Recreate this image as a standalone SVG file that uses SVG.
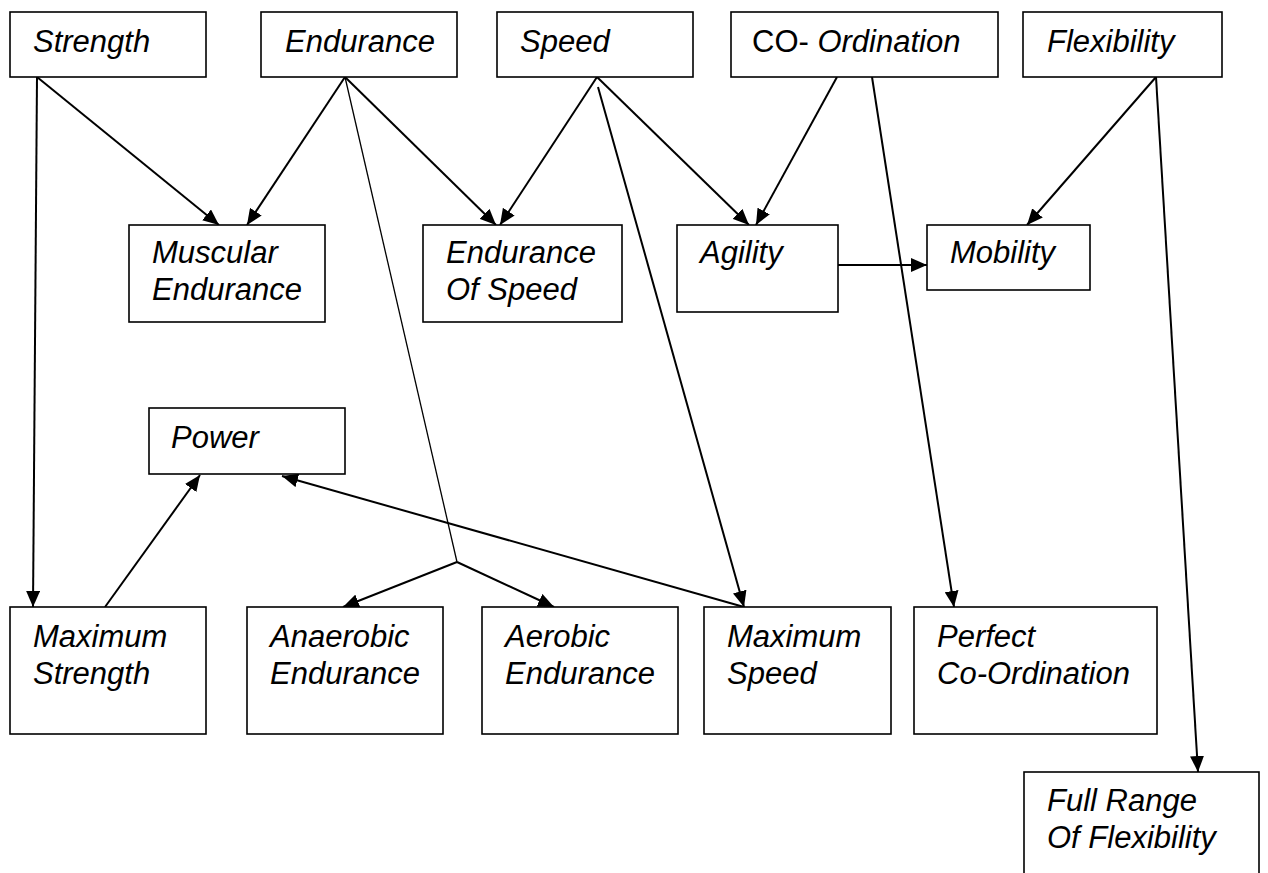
<svg xmlns="http://www.w3.org/2000/svg" width="1268" height="873" viewBox="0 0 1268 873">
<defs>
<style>
.box{fill:#fff;stroke:#000;stroke-width:1.6}
.t{font-family:"Liberation Sans",Arial,sans-serif;font-size:31px;font-style:italic;fill:#000}
.up{font-style:normal}
.c{stroke:#000;stroke-width:2;fill:none}
.thin{stroke:#000;stroke-width:1.3;fill:none}
</style>
<marker id="ah" markerUnits="userSpaceOnUse" markerWidth="16" markerHeight="14" refX="16" refY="7" orient="auto">
<path d="M0,0 L16,7 L0,14 z" fill="#000"/>
</marker>
</defs>
<rect width="1268" height="873" fill="#fff"/>
<g id="connectors">
<line class="c" x1="37" y1="77" x2="33" y2="607" marker-end="url(#ah)"/>
<line class="c" x1="37" y1="77" x2="219" y2="225" marker-end="url(#ah)"/>
<line class="c" x1="345" y1="77" x2="247" y2="225" marker-end="url(#ah)"/>
<line class="c" x1="345" y1="77" x2="496" y2="225" marker-end="url(#ah)"/>
<polyline class="thin" points="345,77 457,562"/>
<line class="c" x1="457" y1="562" x2="343" y2="607" marker-end="url(#ah)"/>
<line class="c" x1="457" y1="562" x2="554" y2="607" marker-end="url(#ah)"/>
<line class="c" x1="597" y1="77" x2="500" y2="225" marker-end="url(#ah)"/>
<line class="c" x1="598" y1="87" x2="744" y2="607" marker-end="url(#ah)"/>
<line class="c" x1="597" y1="77" x2="749" y2="225" marker-end="url(#ah)"/>
<line class="c" x1="837" y1="77" x2="756" y2="225" marker-end="url(#ah)"/>
<line class="c" x1="872" y1="77" x2="954" y2="607" marker-end="url(#ah)"/>
<line class="c" x1="1156" y1="77" x2="1027" y2="225" marker-end="url(#ah)"/>
<line class="c" x1="1156" y1="77" x2="1198" y2="772" marker-end="url(#ah)"/>
<line class="c" x1="838" y1="265" x2="927" y2="265" marker-end="url(#ah)"/>
<line class="c" x1="105" y1="607" x2="200" y2="475" marker-end="url(#ah)"/>
<line class="c" x1="744" y1="607" x2="282" y2="476" marker-end="url(#ah)"/>
</g>
<g id="strength"><rect class="box" x="10" y="12" width="196" height="65"/><text class="t" x="33" y="52">Strength</text></g>
<g id="endurance"><rect class="box" x="261" y="12" width="196" height="65"/><text class="t" x="285" y="52">Endurance</text></g>
<g id="speed"><rect class="box" x="497" y="12" width="196" height="65"/><text class="t" x="520" y="52">Speed</text></g>
<g id="coordination"><rect class="box" x="731" y="12" width="267" height="65"/><text class="t" x="752" y="52"><tspan class="up">CO- </tspan>Ordination</text></g>
<g id="flexibility"><rect class="box" x="1023" y="12" width="199" height="65"/><text class="t" x="1047" y="52">Flexibility</text></g>
<g id="muscular-endurance"><rect class="box" x="129" y="225" width="196" height="97"/><text class="t" x="152" y="263">Muscular</text><text class="t" x="152" y="300">Endurance</text></g>
<g id="endurance-of-speed"><rect class="box" x="423" y="225" width="199" height="97"/><text class="t" x="446" y="263">Endurance</text><text class="t" x="446" y="300">Of Speed</text></g>
<g id="agility"><rect class="box" x="677" y="225" width="161" height="87"/><text class="t" x="700" y="263">Agility</text></g>
<g id="mobility"><rect class="box" x="927" y="225" width="163" height="65"/><text class="t" x="950" y="263">Mobility</text></g>
<g id="power"><rect class="box" x="149" y="408" width="196" height="66"/><text class="t" x="171" y="448">Power</text></g>
<g id="maximum-strength"><rect class="box" x="10" y="607" width="196" height="127"/><text class="t" x="33" y="647">Maximum</text><text class="t" x="33" y="684">Strength</text></g>
<g id="anaerobic-endurance"><rect class="box" x="247" y="607" width="196" height="127"/><text class="t" x="270" y="647">Anaerobic</text><text class="t" x="270" y="684">Endurance</text></g>
<g id="aerobic-endurance"><rect class="box" x="482" y="607" width="196" height="127"/><text class="t" x="505" y="647">Aerobic</text><text class="t" x="505" y="684">Endurance</text></g>
<g id="maximum-speed"><rect class="box" x="704" y="607" width="187" height="127"/><text class="t" x="727" y="647">Maximum</text><text class="t" x="727" y="684">Speed</text></g>
<g id="perfect-coordination"><rect class="box" x="914" y="607" width="243" height="127"/><text class="t" x="937" y="647">Perfect</text><text class="t" x="937" y="684">Co-Ordination</text></g>
<g id="full-range"><rect class="box" x="1024" y="772" width="235" height="140"/><text class="t" x="1047" y="811">Full Range</text><text class="t" x="1047" y="848">Of Flexibility</text></g>
</svg>
